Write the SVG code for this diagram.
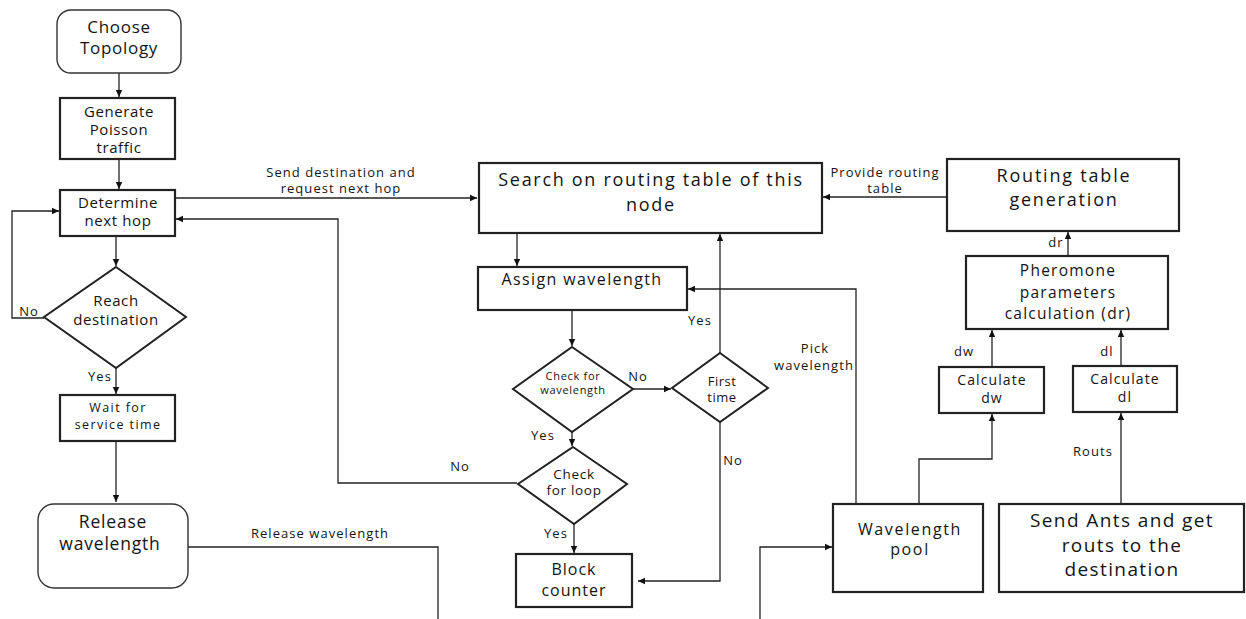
<svg xmlns="http://www.w3.org/2000/svg" width="1246" height="619" viewBox="0 0 1246 619">
<defs>
<marker id="ah" markerWidth="8" markerHeight="8" refX="7" refY="4" orient="auto" markerUnits="userSpaceOnUse">
<path d="M0,0.8 L7,4 L0,7.2 Z" fill="#111"/>
</marker>
<style>
.box{fill:#fff;stroke:#222;stroke-width:2.2}
.rbox{fill:#fff;stroke:#333;stroke-width:1.4}
.dia{fill:#fff;stroke:#222;stroke-width:2}
.c{fill:none;stroke:#222;stroke-width:1.3}
.ca{fill:none;stroke:#222;stroke-width:1.3;marker-end:url(#ah)}
text{font-family:"Open Sans","Liberation Sans",sans-serif;fill:#141414;text-anchor:middle}
.t15{font-size:15px;letter-spacing:0.6px}
.lbl{font-size:13px;letter-spacing:1.05px}
.ch{font-size:17px;letter-spacing:0.7px}
.wt{font-size:12.5px;letter-spacing:1.4px}
.rl{font-size:17.5px;letter-spacing:0.8px}
.sr{font-size:18px;letter-spacing:1.7px}
.as{font-size:16px;letter-spacing:1.4px}
.cw{font-size:11px;letter-spacing:0.7px}
.ft{font-size:13px;letter-spacing:0.5px}
.cl{font-size:13.5px;letter-spacing:0.7px}
.bc{font-size:16px;letter-spacing:1px}
.rt{font-size:18px;letter-spacing:1.8px}
.ph{font-size:15.5px;letter-spacing:1.25px}
.ca2{font-size:14px;letter-spacing:1.1px}
.wp{font-size:16px;letter-spacing:1.65px}
.sa{font-size:19px;letter-spacing:1.4px}
</style>
</defs>
<rect width="1246" height="619" fill="#fff"/>

<g id="connectors">
<path class="ca" d="M119,73 V97"/>
<path class="ca" d="M119,159 V189"/>
<path class="ca" d="M116,236 V266"/>
<path class="ca" d="M116,368 V394"/>
<path class="ca" d="M116,441 V502"/>
<path class="ca" d="M44,318 H12 V211 H59"/>
<path class="ca" d="M175,198 H477"/>
<path class="ca" d="M517,483 H338 V219 H176"/>
<path class="c" d="M188,547 H438 V619"/>
<path class="ca" d="M517,233 V266"/>
<path class="ca" d="M572,310 V346"/>
<path class="ca" d="M633,389 H671"/>
<path class="ca" d="M720,353 V234"/>
<path class="ca" d="M720,422 V581 H638"/>
<path class="ca" d="M572,432 V446"/>
<path class="ca" d="M574,524 V553"/>
<path class="ca" d="M856,504 V289 H688"/>
<path class="ca" d="M947,197 H823"/>
<path class="ca" d="M1068,256 V232"/>
<path class="ca" d="M992,367 V330"/>
<path class="ca" d="M1121,366 V330"/>
<path class="ca" d="M919,504 V459 H992 V414"/>
<path class="ca" d="M1121,504 V413"/>
<path class="ca" d="M760,619 V547 H832"/>
</g>

<g id="labels">
<text class="lbl" x="341" y="177">Send destination and</text>
<text class="lbl" x="341" y="193">request next hop</text>
<text class="lbl" x="29" y="316">No</text>
<text class="lbl" x="100" y="381">Yes</text>
<text class="lbl" x="320" y="538">Release wavelength</text>
<text class="lbl" x="885" y="177">Provide routing</text>
<text class="lbl" x="885" y="193">table</text>
<text class="lbl" x="700" y="325">Yes</text>
<text class="lbl" x="815" y="353">Pick</text>
<text class="lbl" x="814" y="370">wavelength</text>
<text class="lbl" x="638" y="381">No</text>
<text class="lbl" x="543" y="440">Yes</text>
<text class="lbl" x="460" y="471">No</text>
<text class="lbl" x="733" y="465">No</text>
<text class="lbl" x="556" y="538">Yes</text>
<text class="lbl" x="1056" y="247">dr</text>
<text class="lbl" x="964" y="356">dw</text>
<text class="lbl" x="1107" y="356">dl</text>
<text class="lbl" x="1093" y="456">Routs</text>
</g>

<g id="choose-topology">
<rect class="rbox" x="57" y="10" width="124" height="63" rx="14"/>
<text class="ch" x="119" y="33">Choose</text>
<text class="ch" x="119" y="54">Topology</text>
</g>
<g id="generate-poisson">
<rect class="box" x="60" y="98" width="115" height="61"/>
<text class="t15" x="119" y="117">Generate</text>
<text class="t15" x="119" y="135">Poisson</text>
<text class="t15" x="119" y="153">traffic</text>
</g>
<g id="determine-next-hop">
<rect class="box" x="60" y="190" width="115" height="46"/>
<text class="t15" x="118" y="208">Determine</text>
<text class="t15" x="118" y="226">next hop</text>
</g>
<g id="reach-destination">
<polygon class="dia" points="116,267 186,317 116,368 44,317"/>
<text class="t15" x="116" y="306">Reach</text>
<text class="t15" x="116" y="325">destination</text>
</g>
<g id="wait-service">
<rect class="box" x="60" y="395" width="115" height="46"/>
<text class="wt" x="118" y="412">Wait for</text>
<text class="wt" x="118" y="429">service time</text>
</g>
<g id="release-wavelength">
<rect class="rbox" x="38" y="504" width="150" height="84" rx="16"/>
<text class="rl" x="113" y="528">Release</text>
<text class="rl" x="110" y="550">wavelength</text>
</g>
<g id="search-routing">
<rect class="box" x="479" y="163" width="343" height="70"/>
<text class="sr" x="651" y="186">Search on routing table of this</text>
<text class="sr" x="651" y="211">node</text>
</g>
<g id="assign-wavelength">
<rect class="box" x="478" y="267" width="209" height="43"/>
<text class="as" x="582" y="285">Assign wavelength</text>
</g>
<g id="check-wavelength">
<polygon class="dia" points="572,347 633,389 572,432 513,389"/>
<text class="cw" x="573" y="380">Check for</text>
<text class="cw" x="573" y="394">wavelength</text>
</g>
<g id="first-time">
<polygon class="dia" points="720,353 768,388 720,422 672,388"/>
<text class="ft" x="722" y="386">First</text>
<text class="ft" x="722" y="402">time</text>
</g>
<g id="check-loop">
<polygon class="dia" points="573,447 627,484 574,524 518,484"/>
<text class="cl" x="574" y="479">Check</text>
<text class="cl" x="574" y="495">for loop</text>
</g>
<g id="block-counter">
<rect class="box" x="516" y="554" width="116" height="53"/>
<text class="bc" x="574" y="575">Block</text>
<text class="bc" x="574" y="596">counter</text>
</g>
<g id="routing-table-generation">
<rect class="box" x="947" y="159" width="232" height="72"/>
<text class="rt" x="1064" y="182">Routing table</text>
<text class="rt" x="1064" y="206">generation</text>
</g>
<g id="pheromone">
<rect class="box" x="966" y="256" width="202" height="73"/>
<text class="ph" x="1068" y="276">Pheromone</text>
<text class="ph" x="1068" y="298">parameters</text>
<text class="ph" x="1068" y="319">calculation (dr)</text>
</g>
<g id="calculate-dw">
<rect class="box" x="939" y="367" width="105" height="46"/>
<text class="ca2" x="992" y="385">Calculate</text>
<text class="ca2" x="992" y="403">dw</text>
</g>
<g id="calculate-dl">
<rect class="box" x="1073" y="366" width="104" height="46"/>
<text class="ca2" x="1125" y="384">Calculate</text>
<text class="ca2" x="1125" y="402">dl</text>
</g>
<g id="wavelength-pool">
<rect class="box" x="833" y="504" width="150" height="88"/>
<text class="wp" x="910" y="535">Wavelength</text>
<text class="wp" x="910" y="555">pool</text>
</g>
<g id="send-ants">
<rect class="box" x="999" y="504" width="245" height="88"/>
<text class="sa" x="1122" y="527">Send Ants and get</text>
<text class="sa" x="1122" y="552">routs to the</text>
<text class="sa" x="1122" y="576">destination</text>
</g>
</svg>
